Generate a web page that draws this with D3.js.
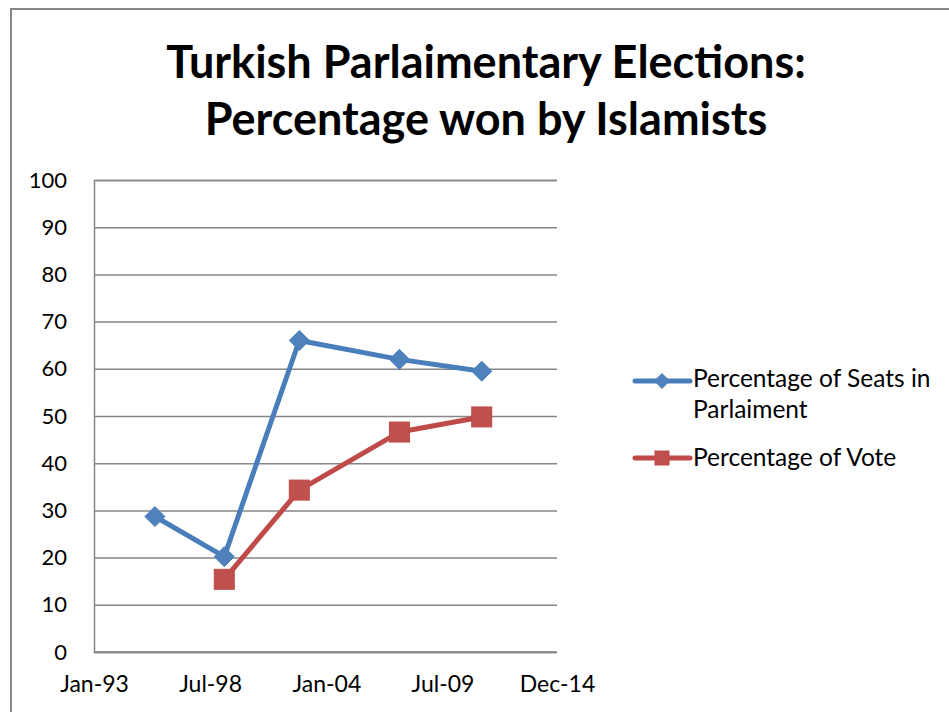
<!DOCTYPE html>
<html>
<head>
<meta charset="utf-8">
<script src="https://cdn.jsdelivr.net/npm/d3@7"></script>
<style>
  html, body { margin: 0; padding: 0; background: #fff; }
  svg { display: block; font-family: Lato, "Open Sans", sans-serif; }
</style>
</head>
<body>
<svg id="chart" width="949" height="712"></svg>
<script>
// ---- data ----
const titleLines = ["Turkish Parlaimentary Elections:", "Percentage won by Islamists"];
const electionDates = ["1995-11-20", "1999-03-03", "2002-09-20", "2007-06-17", "2011-05-10"];
const seatsPct = [28.7, 20.2, 66.0, 62.0, 59.5];
const votePct = [null, 15.4, 34.3, 46.6, 49.8];
const seriesNames = ["Percentage of Seats in Parlaiment", "Percentage of Vote"];
const xTickDates = ["1993-01-01", "1998-07-01", "2004-01-01", "2009-07-01", "2014-12-01"];
const xTickLabels = ["Jan-93", "Jul-98", "Jan-04", "Jul-09", "Dec-14"];
const yTicks = [0, 10, 20, 30, 40, 50, 60, 70, 80, 90, 100];

// ---- layout ----
const W = 949, H = 712;
const plot = { left: 94, right: 557, top: 180, bottom: 652 };
const parse = d3.timeParse("%Y-%m-%d");
const blue = "#4A7EBB", blueFill = "#4F81BD", red = "#BE4B48", redFill = "#C0504D";
const gridColor = "#868686";

const svg = d3.select("#chart");

// outer frame
svg.append("path")
  .attr("d", `M11,${H + 5} L11,9 L${W + 5},9`)
  .attr("fill", "none").attr("stroke", gridColor).attr("stroke-width", 2);

// title
const title = svg.append("text")
  .attr("text-anchor", "middle")
  .attr("font-weight", "bold")
  .attr("font-size", 45)
  .attr("fill", "#000");
title.selectAll("tspan").data(titleLines).join("tspan")
  .attr("x", 486)
  .attr("y", (d, i) => 78 + i * 57)
  .text(d => d);

// scales
const x = d3.scaleTime()
  .domain([parse(xTickDates[0]), parse(xTickDates[xTickDates.length - 1])])
  .range([plot.left, plot.right]);
const y = d3.scaleLinear().domain([0, 100]).range([plot.bottom, plot.top]);

// gridlines + y axis
const yAxis = d3.axisLeft(y).tickValues(yTicks).tickSize(-(plot.right - plot.left)).tickPadding(27).tickFormat(d3.format("d"));
const gy = svg.append("g").attr("transform", `translate(${plot.left},0)`).call(yAxis);
gy.select(".domain").attr("stroke", gridColor).attr("stroke-width", 1.5);
gy.selectAll(".tick line").attr("stroke", gridColor).attr("stroke-width", 1.5);
gy.selectAll(".tick text").attr("font-size", 22).attr("fill", "#000").attr("font-family", "Lato, sans-serif");

// x axis (labels only)
const xAxis = d3.axisBottom(x)
  .tickValues(xTickDates.map(parse))
  .tickSize(0).tickPadding(24)
  .tickFormat((d, i) => xTickLabels[i]);
const gx = svg.append("g").attr("transform", `translate(0,${plot.bottom})`).call(xAxis);
gx.select(".domain").remove();
gx.selectAll(".tick text").attr("font-size", 23).attr("fill", "#000").attr("font-family", "Lato, sans-serif");

// bottom axis line
svg.append("line")
  .attr("x1", plot.left).attr("x2", plot.right)
  .attr("y1", y(0)).attr("y2", y(0))
  .attr("stroke", gridColor).attr("stroke-width", 1.5);

// series
const seatsData = electionDates.map((d, i) => ({ date: parse(d), v: seatsPct[i] })).filter(d => d.v != null);
const voteData = electionDates.map((d, i) => ({ date: parse(d), v: votePct[i] })).filter(d => d.v != null);
const line = d3.line().x(d => x(d.date)).y(d => y(d.v));

svg.append("path").datum(seatsData).attr("d", line)
  .attr("fill", "none").attr("stroke", blue).attr("stroke-width", 5).attr("stroke-linejoin", "round");
svg.append("path").datum(voteData).attr("d", line)
  .attr("fill", "none").attr("stroke", red).attr("stroke-width", 5).attr("stroke-linejoin", "round");

const diamond = s => `M0,${-s} L${s},0 L0,${s} L${-s},0 Z`;
svg.selectAll(".seatMark").data(seatsData).join("path")
  .attr("class", "seatMark")
  .attr("transform", d => `translate(${x(d.date)},${y(d.v)})`)
  .attr("d", diamond(10))
  .attr("fill", blueFill).attr("stroke", blue).attr("stroke-width", 1);
svg.selectAll(".voteMark").data(voteData).join("rect")
  .attr("class", "voteMark")
  .attr("x", d => x(d.date) - 10).attr("y", d => y(d.v) - 10)
  .attr("width", 20).attr("height", 20)
  .attr("fill", redFill).attr("stroke", red).attr("stroke-width", 1);

// legend
const legend = svg.append("g").attr("font-size", 24.5).attr("fill", "#000");
// seats entry
legend.append("line").attr("x1", 635).attr("x2", 690).attr("y1", 381).attr("y2", 381)
  .attr("stroke", blue).attr("stroke-width", 5).attr("stroke-linecap", "round");
legend.append("path").attr("transform", "translate(662,381)").attr("d", diamond(7.5))
  .attr("fill", blueFill).attr("stroke", blue);
const t1 = legend.append("text").attr("x", 693);
t1.append("tspan").attr("x", 693).attr("y", 387).text("Percentage of Seats in");
t1.append("tspan").attr("x", 693).attr("y", 418).text("Parlaiment");
// vote entry
legend.append("line").attr("x1", 635).attr("x2", 690).attr("y1", 458).attr("y2", 458)
  .attr("stroke", red).attr("stroke-width", 5).attr("stroke-linecap", "round");
legend.append("rect").attr("x", 655).attr("y", 451).attr("width", 14).attr("height", 14)
  .attr("fill", redFill).attr("stroke", red);
legend.append("text").attr("x", 693).attr("y", 466).text(seriesNames[1]);
</script>
</body>
</html>
